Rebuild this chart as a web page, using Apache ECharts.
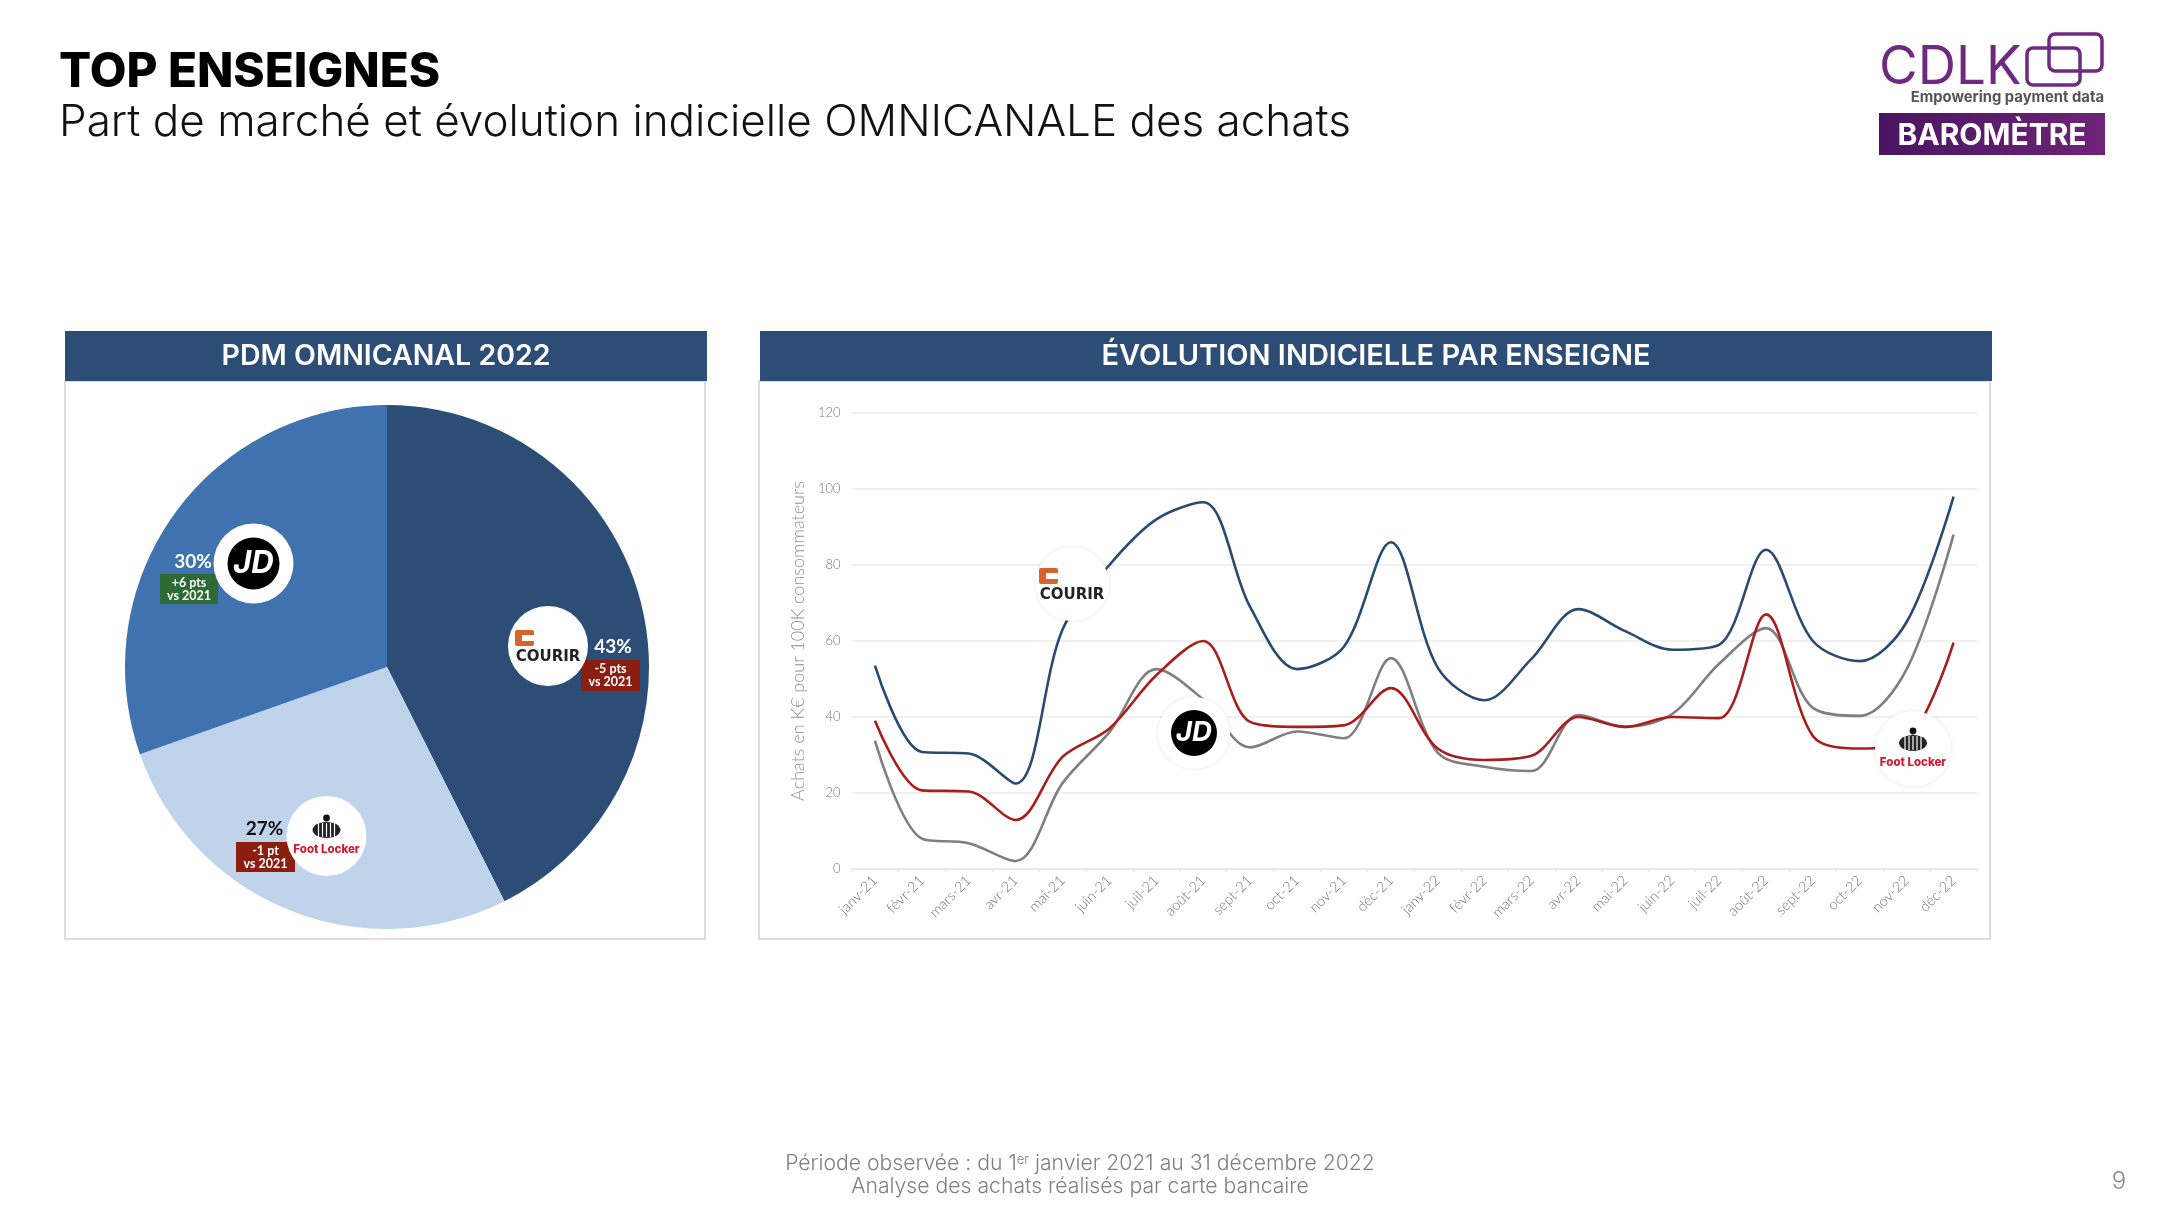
<!DOCTYPE html>
<html><head><meta charset="utf-8">
<style>html,body{margin:0;padding:0;background:#fff}#c{width:2160px;height:1212px}</style>
<script src="https://cdn.jsdelivr.net/npm/echarts@6/dist/echarts.min.js"></script>
</head><body><div id="c"></div>
<script>
const months = ['janv-21','févr-21','mars-21','avr-21','mai-21','juin-21','juil-21','août-21','sept-21','oct-21','nov-21','déc-21','janv-22','févr-22','mars-22','avr-22','mai-22','juin-22','juil-22','août-22','sept-22','oct-22','nov-22','déc-22'];
const courir = [53.5,30.8,30.4,22.5,63,80,92,96.5,69,52.6,58.5,86,53,44.4,55.3,68.4,62.6,57.7,59,84,60,54.7,65,98];
const jd = [33.8,8,6.8,2.1,22.6,36,52.6,44.6,32,36.2,34.4,55.5,30.6,26.9,25.8,40.5,37.4,40.8,54,63.4,42.4,40.3,52.6,88];
const footLocker = [39,20.7,20.4,12.9,29.5,37,51,60,38.7,37.4,37.8,47.6,31.7,28.7,29.8,40,37.4,40,39.7,67,35,31.7,33.8,59.6];
const pdmNames = ['Courir','Foot Locker','JD'];
const pdmValues = [42.6,27,30.4];
const yTicks = {min:0,max:120,interval:20};

const NAVY='#2C4D75', F='Inter, "Open Sans", sans-serif', G='Lato, "Open Sans", sans-serif';
function txt(text,x,y,size,fill,weight,align,family,z){
  return {type:'text',z:z||50,silent:true,style:{text,x,y,fontSize:size,fill,fontWeight:weight||400,fontFamily:family||F,textAlign:align||'left',textVerticalAlign:'middle'}};
}
function rect(x,y,w,h,fill,stroke,z,r){
  return {type:'rect',z:z||50,silent:true,shape:{x,y,width:w,height:h,r:r||0},style:{fill:fill||'none',stroke:stroke||'none',lineWidth:stroke?(z===1?1.6:3.5):0}};
}
function disc(cx,cy,r,fill,z,shadow){
  return {type:'circle',z:z||60,silent:true,shape:{cx,cy,r},style:{fill,shadowBlur:shadow?3:0,shadowColor:'rgba(0,0,0,0.12)'}};
}
function logoJD(cx,cy,r,R){
  return [disc(cx,cy,R,'#fff',60,R<38),disc(cx,cy,r,'#000',61),
    {type:'text',z:62,silent:true,style:{text:'JD',x:cx,y:cy,fontSize:r*1.2,fontWeight:700,fontStyle:'italic',fontFamily:F,fill:'#fff',textAlign:'center',textVerticalAlign:'middle'}}];
}
function logoCourir(cx,cy,R,soft){
  const o='#D9622B', X=cx-33, Y=cy-16;
  return [disc(cx,cy,R,'#fff',60,soft),
    rect(X,Y,19,16,o,null,61,2),rect(X+7,Y+5,12,6,'#fff',null,62),
    txt('COURIR',cx,cy+11,15,'#222',800,'center','"DejaVu Sans", sans-serif',62)];
}
function logoFoot(cx,cy,R,soft){
  const by=cy-6, parts=[disc(cx,cy,R,'#fff',60,soft)];
  parts.push(disc(cx,by-12,3.4,'#111',61));
  parts.push({type:'ellipse',z:61,silent:true,shape:{cx,cy:by,rx:14,ry:8},style:{fill:'#222'}});
  [-8,-4,0,4,8].forEach(d=>parts.push(rect(cx+d-0.6,by-7,1.2,14,'#fff',null,62)));
  parts.push(txt('Foot Locker',cx,cy+14,11.5,'#D5182F',800,'center',F,62));
  return parts;
}
function badge(x,y,w,h,fill,l1,l2){
  return [rect(x,y,w,h,fill,null,55),
    txt(l1,x+w/2,y+h*0.29,12.5,'#fff',700,'center',G,56),
    txt(l2,x+w/2,y+h*0.72,12.5,'#fff',700,'center',G,56)];
}
const graphics=[
  txt('TOP ENSEIGNES',59,73,47.6,'#000',800),
  txt('Part de marché et évolution indicielle OMNICANALE des achats',59,123,44,'#111',300),
  // panel frames and headers
  rect(65,381,640,558,'none','#d4d4d4',1),
  rect(759,381,1231,558,'none','#d4d4d4',1),
  rect(65,331,642,50,NAVY),rect(760,331,1232,50,NAVY),
  txt('PDM OMNICANAL 2022',386,356,28.5,'#fff',600,'center'),
  txt('ÉVOLUTION INDICIELLE PAR ENSEIGNE',1376,356,29,'#fff',600,'center'),
  // CDLK brand block
  txt('CDLK',1879,68,53,'#6E2A80',400,'left'),
  rect(2049,34,53,37,null,'#6E2A80',50,6),rect(2027,48,53,37,'none','#6E2A80',51,6),
  txt('Empowering payment data',2104,98,14.8,'#555',700,'right'),
  {type:'rect',z:50,silent:true,shape:{x:1879,y:113,width:226,height:42},style:{fill:new echarts.graphic.LinearGradient(0,0,1,0,[{offset:0,color:'#4A1560'},{offset:1,color:'#6E2478'}])}},
  txt('BAROMÈTRE',1992,136,30,'#fff',700,'center'),
  // pie annotations
  txt('30%',193,562,19,'#fff',700,'center',G,56),...badge(160,574,58,30,'#2E6B34','+6 pts','vs 2021'),...logoJD(253.5,563.5,26,40),
  txt('43%',613,647,19,'#fff',700,'center',G,56),...badge(581,660,59,31,'#8B1E10','-5 pts','vs 2021'),...logoCourir(548,646,40,false),
  txt('27%',264.5,829,19,'#111',700,'center',G,56),...badge(236,842,59,30,'#8B1E10','-1 pt','vs 2021'),...logoFoot(326.5,836,40,false),
  // line chart logos
  ...logoCourir(1072,584,37,true),
  ...logoJD(1194,733,23,36),
  ...logoFoot(1913,749,38,true),
  // footer
  {type:'text',z:50,silent:true,style:{x:1080,y:1164,text:'{n|Période observée : du 1}{s|er}{n| janvier 2021 au 31 décembre 2022}',textAlign:'center',textVerticalAlign:'middle',rich:{n:{fontSize:21.2,fontFamily:F,fontWeight:300,fill:'#7f7f7f'},s:{fontSize:13,fontFamily:F,fontWeight:300,fill:'#7f7f7f',verticalAlign:'top',lineHeight:20}}}},
  txt('Analyse des achats réalisés par carte bancaire',1080,1187,21.2,'#7f7f7f',300,'center'),
  txt('9',2119,1182,24,'#8a8a8a',300,'center')
];
const line=(name,data,color)=>({name,type:'line',data,smooth:0.33,showSymbol:false,symbol:'none',lineStyle:{color,width:2.6},silent:true,z:3});
const chart=echarts.init(document.getElementById('c'),null,{renderer:'canvas'});
chart.setOption({
  animation:false,backgroundColor:'#fff',
  grid:{left:851.5,right:183,top:413,height:456,containLabel:false},
  xAxis:{type:'category',data:months,boundaryGap:true,
    axisLine:{lineStyle:{color:'#e6e6e6',width:1.5}},axisTick:{show:true,alignWithLabel:false,length:3,lineStyle:{color:'#e6e6e6'}},
    axisLabel:{rotate:45,interval:0,fontSize:14.5,color:'#777',fontFamily:G,fontWeight:300,margin:9}},
  yAxis:{type:'value',...yTicks,name:'Achats en K€ pour 100K consommateurs',nameLocation:'middle',nameGap:40,
    nameTextStyle:{fontSize:18,color:'#8f8f8f',fontFamily:G,fontWeight:300},
    axisLine:{show:false},axisTick:{show:false},
    axisLabel:{fontSize:13,color:'#777',fontFamily:G,fontWeight:300,margin:11},
    splitLine:{lineStyle:{color:'#ebebeb',width:1.5}}},
  series:[
    line('Courir',courir,'#2A4A70'),line('JD',jd,'#7F7F7F'),line('Foot Locker',footLocker,'#A81E1E'),
    {type:'pie',silent:true,center:[387,667],radius:[0,262],startAngle:90,clockwise:true,label:{show:false},labelLine:{show:false},z:2,
     data:pdmNames.map((name,i)=>({name,value:pdmValues[i],itemStyle:{color:['#2C4D75','#BFD3EA','#3F72AF'][i]}}))}
  ],
  graphic:{elements:graphics}
});
</script></body></html>
